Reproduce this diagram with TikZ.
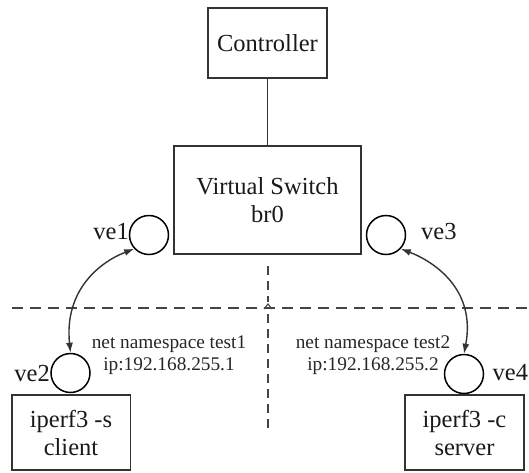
\documentclass[tikz,border=0pt]{standalone}
\usepackage{fontspec}
\setmainfont{Liberation Serif}
\usetikzlibrary{arrows.meta}
\newcommand{\mybig}{\fontsize{24.5}{28}\selectfont}
\newcommand{\mysmall}{\fontsize{19.3}{22.6}\selectfont}
\definecolor{linegray}{HTML}{333333}
\definecolor{dashgray}{HTML}{444444}
\begin{document}
\begin{tikzpicture}[x=1pt,y=-1pt,
  box/.style={draw=linegray,line width=1.5pt,align=center,font=\mybig,inner sep=0pt,text=black!90},
  ring/.style={circle,draw=black,line width=1.5pt,minimum size=39pt,inner sep=0pt},
  lab/.style={font=\mybig,inner sep=0pt,text=black!90},
  nslab/.style={font=\mysmall,align=center,inner sep=0pt,text=black!85},
  link/.style={line width=1.4pt,draw=linegray,{Latex[length=10pt,width=7pt]}-{Latex[length=10pt,width=7pt]}},
  sepline/.style={line width=1.3pt,draw=dashgray,dash pattern=on 11pt off 7pt},
  sepvert/.style={line width=1.1pt,draw=dashgray,dash pattern=on 9pt off 6pt}]
\useasboundingbox (0,0) rectangle (529,472);

\node[box,minimum width=119pt,minimum height=70pt] (ctrl) at (267.5,43) {Controller};
\node[box,minimum width=187pt,minimum height=108pt] (sw) at (267.5,200) {Virtual Switch\\br0};
\node[box,minimum width=118.5pt,minimum height=75pt] (cli) at (71,432.5) {iperf3 -s\\client};
\node[box,minimum width=119pt,minimum height=75pt] (srv) at (464.5,432.5) {iperf3 -c\\server};

\node[ring] (ve1) at (149,235) {};
\node[ring] (ve3) at (386,235) {};
\node[ring] (ve2) at (70.5,373) {};
\node[ring] (ve4) at (464,374) {};

\node[lab,anchor=east] (l1) at (129,232) {ve1};
\node[lab,anchor=west] (l3) at (421,232) {ve3};
\node[lab,anchor=east] (l2) at (50,373) {ve2};
\node[lab,anchor=west] (l4) at (492.5,373) {ve4};

\node[nslab] (ns1) at (169,355) {net namespace test1\\ip:192.168.255.1};
\node[nslab] (ns2) at (373,355) {net namespace test2\\ip:192.168.255.2};

\draw[line width=1.5pt,draw=linegray] (ctrl.south) -- (sw.north);

\coordinate (hl) at (12,308);
\coordinate (hr) at (529,308);
\draw[sepline] (hl) -- (hr);
\coordinate (vt) at (268,266);
\coordinate (vj1) at (268,302);
\coordinate (vj2) at (268,314);
\coordinate (vb) at (268,428);
\draw[sepvert] (vt) -- (vj1);
\draw[line width=1.1pt,draw=dashgray] (264,309) -- (268,304) -- (272,309);
\draw[sepvert] (vj2) -- (vb);

\draw[link] (ve1.223) .. controls (100,262) and (64,290) .. (ve2.north);
\draw[link] (ve3.317) .. controls (435,262) and (476,290) .. (ve4.north);
\end{tikzpicture}
\end{document}
